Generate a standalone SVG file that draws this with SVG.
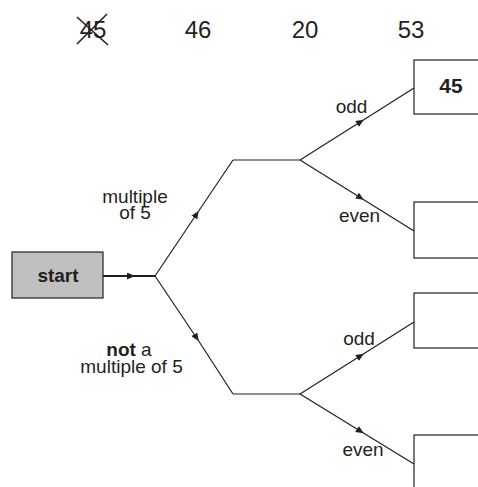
<svg xmlns="http://www.w3.org/2000/svg" width="478" height="487" viewBox="0 0 478 487">
<style>
text{font-family:"Liberation Sans",Arial,sans-serif;fill:#231f20}
.num{font-size:24px;text-anchor:middle}
.lbl{font-size:19px;text-anchor:middle}
.b{font-weight:bold}
.ln{fill:none;stroke:#231f20;stroke-width:1.2}
.box{fill:#fff;stroke:#231f20;stroke-width:1.2}
</style>
<defs>
<marker id="ah" markerUnits="userSpaceOnUse" markerWidth="9" markerHeight="7" refX="8" refY="3.5" orient="auto">
<path d="M0,0 L8,3.5 L0,7 z" fill="#231f20"/>
</marker>
</defs>
<g id="header">
<text class="num" x="93" y="38">45</text>
<line x1="77" y1="44" x2="107" y2="14" stroke="#231f20" stroke-width="1.6"/>
<line x1="77" y1="17" x2="108" y2="45" stroke="#231f20" stroke-width="1.6"/>
<text class="num" x="198" y="38">46</text>
<text class="num" x="305" y="38">20</text>
<text class="num" x="411" y="38">53</text>
</g>
<g id="connectors">
<path class="ln" style="stroke-width:2" d="M103,276 L135,276 L155,276" marker-mid="url(#ah)"/>
<path class="ln" d="M155,276 L198.7,211 L233,160" marker-mid="url(#ah)"/>
<path class="ln" d="M233,160 L300,160"/>
<path class="ln" d="M155,276 L198.7,341 L233,394" marker-mid="url(#ah)"/>
<path class="ln" d="M233,394 L300,394"/>
<path class="ln" d="M300,160 L363.8,119.7 L414,88" marker-mid="url(#ah)"/>
<path class="ln" d="M300,160 L363.8,199.8 L414,231" marker-mid="url(#ah)"/>
<path class="ln" d="M300,394 L363.8,353.7 L414,322" marker-mid="url(#ah)"/>
<path class="ln" d="M300,394 L363.8,433.2 L414,464" marker-mid="url(#ah)"/>
</g>
<g id="start">
<rect x="12" y="252" width="91" height="46" fill="#c0c0c0" stroke="#231f20" stroke-width="1.2"/>
<text class="lbl b" x="58" y="282">start</text>
</g>
<g id="label-multiple">
<text class="lbl" x="135" y="203">multiple</text>
<text class="lbl" x="135" y="219">of 5</text>
</g>
<g id="label-not">
<text class="lbl" x="129" y="356"><tspan class="b">not</tspan> a</text>
<text class="lbl" x="131.5" y="372.5">multiple of 5</text>
</g>
<g id="label-odd1"><text class="lbl" x="351.5" y="113">odd</text></g>
<g id="label-even1"><text class="lbl" x="359.5" y="221.5">even</text></g>
<g id="label-odd2"><text class="lbl" x="359" y="345">odd</text></g>
<g id="label-even2"><text class="lbl" x="363" y="456">even</text></g>
<g id="box1">
<rect class="box" x="414" y="60" width="70" height="54"/>
<text class="b" x="451" y="93" style="font-size:21px;text-anchor:middle">45</text>
</g>
<g id="box2"><rect class="box" x="414" y="202" width="70" height="56"/></g>
<g id="box3"><rect class="box" x="414" y="293" width="70" height="55"/></g>
<g id="box4"><rect class="box" x="414" y="435" width="70" height="60"/></g>
</svg>
